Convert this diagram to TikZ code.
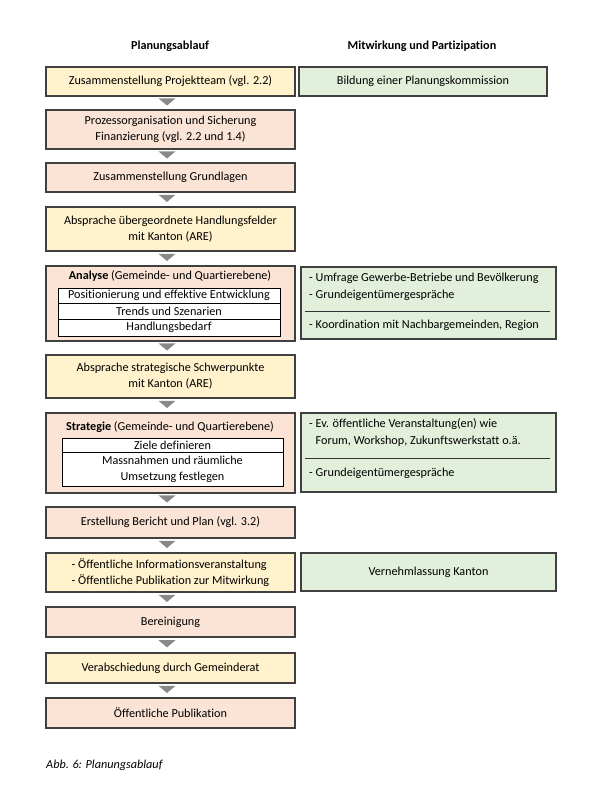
\documentclass[tikz,border=0pt]{standalone}
\usepackage{fontspec}
\setmainfont{Carlito}[Ligatures=NoCommon]
\usepackage{tikz}
\usetikzlibrary{calc}
\definecolor{stepYellow}{RGB}{255,242,204}
\definecolor{stepSalmon}{RGB}{251,228,214}
\definecolor{partGreen}{RGB}{226,239,218}
\definecolor{frameGray}{RGB}{64,64,64}
\definecolor{triGray}{RGB}{137,137,137}

\begin{document}
\begin{tikzpicture}[x=1pt,y=-1pt,
  lbox/.style={rectangle,draw=frameGray,line width=1.2pt,minimum width=249pt,
               inner sep=0pt,align=center,font=\fontsize{12.2}{16}\selectfont},
  rbox/.style={rectangle,draw=frameGray,fill=partGreen,line width=1.2pt,
               inner sep=0pt,align=center,font=\fontsize{12.2}{16}\selectfont},
  row/.style={rectangle,draw=black,fill=white,line width=0.7pt,inner sep=0pt,
              align=center,font=\fontsize{12.2}{16}\selectfont},
  txt/.style={inner sep=0pt,align=left,font=\fontsize{12.2}{17}\selectfont},
  head/.style={inner sep=0pt,font=\fontsize{12.2}{16}\selectfont\bfseries},
  sep/.style={line width=0.6pt,black!80}
]
  \useasboundingbox (0,0) rectangle (608,800);

  \node[head](hPlan) at (170,46) {Planungsablauf};
  \node[head](hMit)  at (422,46) {Mitwirkung und Partizipation};

  \node[lbox,fill=stepYellow,minimum height=29pt](team)  at (170.5,81.5)
      {Zusammenstellung Projektteam (vgl. 2.2)};
  \node[lbox,fill=stepSalmon,minimum height=39pt](orga)  at (170.5,129.5)
      {Prozessorganisation und Sicherung\\Finanzierung (vgl. 2.2 und 1.4)};
  \node[lbox,fill=stepSalmon,minimum height=29pt](grundl) at (170.5,177.5)
      {Zusammenstellung Grundlagen};
  \node[lbox,fill=stepYellow,minimum height=44pt](absp1) at (170.5,229)
      {Absprache übergeordnete Handlungsfelder\\mit Kanton (ARE)};

  \node[lbox,fill=stepSalmon,minimum height=75pt](analyse) at (170.5,303.5) {};
  \node[inner sep=0pt,font=\fontsize{12.2}{16}\selectfont](anTitle) at (170,276)
      {\textbf{Analyse} (Gemeinde- und Quartierebene)};
  \node[row,minimum width=222pt,minimum height=15pt](an1) at (169,295.5)
      {Positionierung und effektive Entwicklung};
  \node[row,minimum width=222pt,minimum height=16pt](an2) at (169,311)
      {Trends und Szenarien};
  \node[row,minimum width=222pt,minimum height=17pt](an3) at (169,327.5)
      {Handlungsbedarf};

  \node[lbox,fill=stepYellow,minimum height=43pt](absp2) at (170.5,376.5)
      {Absprache strategische Schwerpunkte\\mit Kanton (ARE)};

  \node[lbox,fill=stepSalmon,minimum height=80pt](strat) at (170.5,453) {};
  \node[inner sep=0pt,font=\fontsize{12.2}{16}\selectfont](stTitle) at (170,427)
      {\textbf{Strategie} (Gemeinde- und Quartierebene)};
  \node[row,minimum width=221pt,minimum height=14pt](st1) at (172.5,445)
      {Ziele definieren};
  \node[row,minimum width=221pt,minimum height=34pt](st2) at (172.5,469)
      {Massnahmen und räumliche\\Umsetzung festlegen};

  \node[lbox,fill=stepSalmon,minimum height=31pt](bericht) at (170.5,522.5)
      {Erstellung Bericht und Plan (vgl. 3.2)};
  \node[lbox,fill=stepYellow,minimum height=39pt,align=left](info) at (170.5,572.5)
      {- Öffentliche Informationsveranstaltung\\- Öffentliche Publikation zur Mitwirkung};
  \node[lbox,fill=stepSalmon,minimum height=30pt](berein) at (170.5,622)
      {Bereinigung};
  \node[lbox,fill=stepYellow,minimum height=30pt](verab) at (170.5,668)
      {Verabschiedung durch Gemeinderat};
  \node[lbox,fill=stepSalmon,minimum height=30pt](publ) at (170.5,713)
      {Öffentliche Publikation};

  \node[rbox,minimum width=248pt,minimum height=29pt](kommission) at (423,81.5)
      {Bildung einer Planungskommission};

  \node[rbox,minimum width=255pt,minimum height=72pt](analyseR) at (428.5,303) {};
  \node[txt,anchor=west](anR1) at (309,286.5)
      {- Umfrage Gewerbe-Betriebe und Bevölkerung\\- Grundeigentümergespräche};
  \node[txt,anchor=west](anR2) at (309,325)
      {- Koordination mit Nachbargemeinden, Region};
  \draw[sep] (305,311) -- (550,311);

  \node[rbox,minimum width=255pt,minimum height=79pt](stratR) at (428.5,452.5) {};
  \node[txt,anchor=west](stR1) at (309,433)
      {- Ev. öffentliche Veranstaltung(en) wie\\\phantom{- }Forum, Workshop, Zukunftswerkstatt o.ä.};
  \node[txt,anchor=west](stR2) at (309,473)
      {- Grundeigentümergespräche};
  \draw[sep] (305,458) -- (550,458);

  \node[rbox,minimum width=255pt,minimum height=38pt](vernehm) at (428.5,572)
      {Vernehmlassung Kanton};

  \foreach \a/\b in {team/orga,orga/grundl,grundl/absp1,absp1/analyse,analyse/absp2,
                     absp2/strat,strat/bericht,bericht/info,info/berein,berein/verab,verab/publ}{
    \path (\a.south) -- coordinate[pos=0.42] (m) (\b.north);
    \fill[triGray] ([xshift=-12pt,yshift=3.6pt]m) -- ([xshift=5pt,yshift=3.6pt]m)
                   -- ([xshift=-3.5pt,yshift=-3.6pt]m) -- cycle;
  }

  \node[inner sep=0pt,anchor=west,font=\fontsize{12.2}{16}\selectfont\itshape](cap) at (46,765)
      {Abb. 6: Planungsablauf};
\end{tikzpicture}
\end{document}
